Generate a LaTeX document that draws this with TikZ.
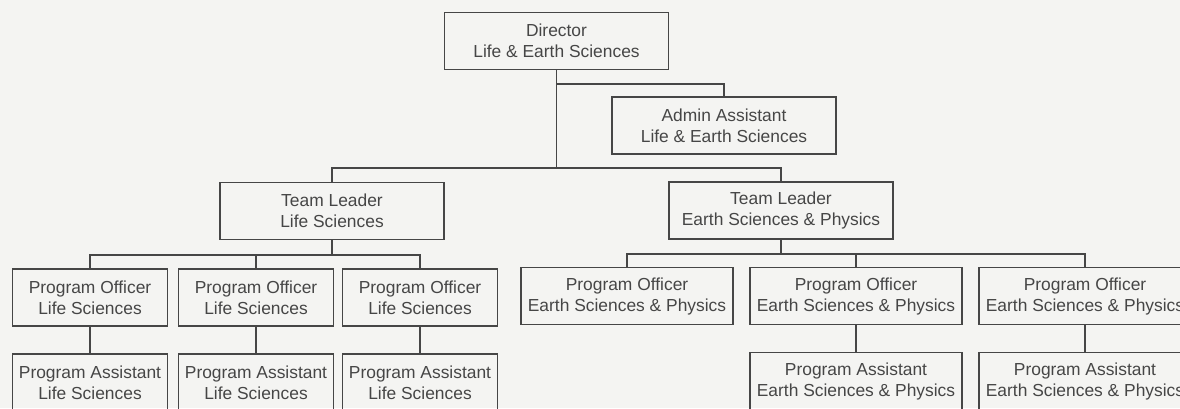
\documentclass[tikz,border=0pt]{standalone}
\usepackage{fontspec}
\setmainfont{Liberation Sans}
\usetikzlibrary{positioning}
\definecolor{ink}{RGB}{70,70,70}
\definecolor{paper}{RGB}{244,244,242}
\tikzstyle{post} = [rectangle, draw=ink, line width=0.75pt, text=ink, minimum height=28.5pt, inner sep=1pt, text centered, font=\fontsize{8.7}{10.5}\selectfont]
\tikzstyle{wide} = [post, minimum width=112pt]
\tikzstyle{life} = [post, minimum width=77.5pt]
\tikzstyle{earth} = [post, minimum width=106pt]
\tikzset{
	link/.style={draw=ink, line width=0.8pt}
}

\begin{document}
\begin{tikzpicture}[x=0.5pt, y=-0.5pt]

		\fill [paper] (0,0) rectangle (1180,408);
		\useasboundingbox (0,0) rectangle (1180,408);

		% Top of the chart
		\node (director) [wide] at (556.5,41) {\parbox{3.6cm}{\centering Director \\ Life \& Earth Sciences}};
		\node (admin) [wide] at (724,125.5) {\parbox{3.6cm}{\centering Admin Assistant \\ Life \& Earth Sciences}};

		% Team leaders
		\node (tlLife) [wide] at (332,211) {\parbox{3.6cm}{\centering Team Leader \\ Life Sciences}};
		\node (tlEarth) [wide] at (781,210.5) {\parbox{3.6cm}{\centering Team Leader \\ Earth Sciences \& Physics}};

		% Life Sciences team
		\node (lo1) [life] at (90,297.5) {\parbox{2.6cm}{\centering Program Officer \\ Life Sciences}};
		\node (lo2) [life] at (256,297.5) {\parbox{2.6cm}{\centering Program Officer \\ Life Sciences}};
		\node (lo3) [life] at (420,297.5) {\parbox{2.6cm}{\centering Program Officer \\ Life Sciences}};
		\node (la1) [life] at (90,382.5) {\parbox{2.6cm}{\centering Program Assistant \\ Life Sciences}};
		\node (la2) [life] at (256,382.5) {\parbox{2.6cm}{\centering Program Assistant \\ Life Sciences}};
		\node (la3) [life] at (420,382.5) {\parbox{2.6cm}{\centering Program Assistant \\ Life Sciences}};

		% Earth Sciences & Physics team
		\node (eo1) [earth] at (627,296) {\parbox{3.6cm}{\centering Program Officer \\ Earth Sciences \& Physics}};
		\node (eo2) [earth] at (856,296) {\parbox{3.6cm}{\centering Program Officer \\ Earth Sciences \& Physics}};
		\node (eo3) [earth] at (1085,296) {\parbox{3.6cm}{\centering Program Officer \\ Earth Sciences \& Physics}};
		\node (ea2) [earth] at (856,381) {\parbox{3.6cm}{\centering Program Assistant \\ Earth Sciences \& Physics}};
		\node (ea3) [earth] at (1085,381) {\parbox{3.6cm}{\centering Program Assistant \\ Earth Sciences \& Physics}};

		% Lines
		\coordinate (split) at (director.south |- 0,169);
		\draw [link] (director.south) -- (split);
		\draw [link] (director.south) ++(0,14) -| (admin.north);
		\draw [link] (tlLife.north) -- ++(0,-14) -| (tlEarth.north);
		\foreach \n in {lo1,lo2,lo3}
			\draw [link] (tlLife.south) -- ++(0,15) -| (\n.north);
		\foreach \n in {eo1,eo2,eo3}
			\draw [link] (tlEarth.south) -- ++(0,14) -| (\n.north);
		\draw [link] (lo1) -- (la1);
		\draw [link] (lo2) -- (la2);
		\draw [link] (lo3) -- (la3);
		\draw [link] (eo2) -- (ea2);
		\draw [link] (eo3) -- (ea3);

	\end{tikzpicture}
\end{document}
